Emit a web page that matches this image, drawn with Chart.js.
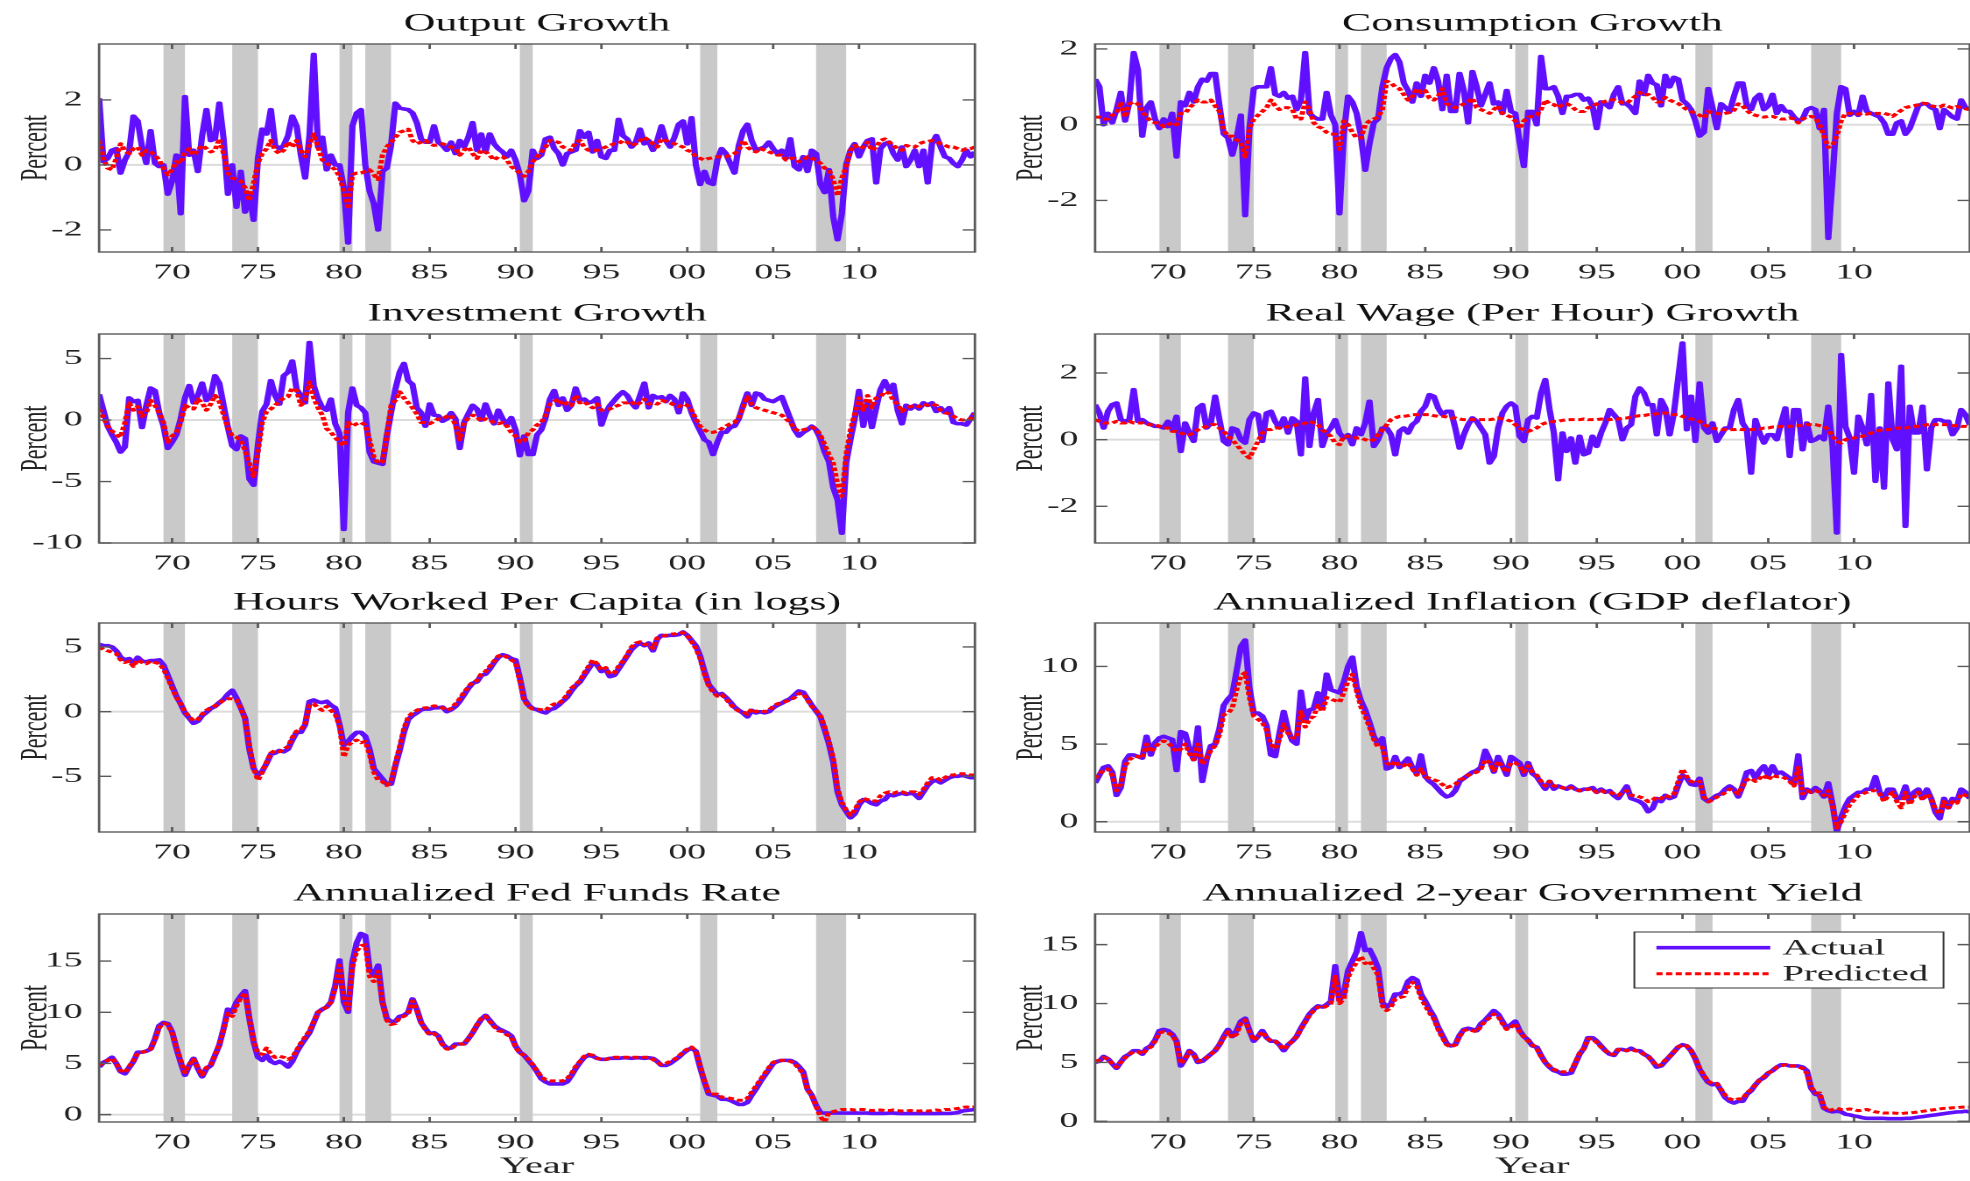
<!DOCTYPE html>
<html lang="en">
<head>
<meta charset="UTF-8">
<title>Actual vs Predicted</title>
<script src="https://cdn.jsdelivr.net/npm/chart.js"></script>
<style>
  html, body { margin: 0; padding: 0; background: #fff; }
  body { width: 1970px; height: 1181px; position: relative; overflow: hidden; }
  .panel { position: absolute; transform-origin: 0 0; }
</style>
</head>
<body>
<script>
// quarterly observations, first one (1966Q1) sits at 1965.75 on the axis
const firstQuarter = 1965.75;
const lastQuarter = 2016.75;
const quarters = [];
for (let q = firstQuarter; q <= lastQuarter + 1e-9; q += 0.25) quarters.push(q);

const yearTicks = [1970, 1975, 1980, 1985, 1990, 1995, 2000, 2005, 2010];
const yearLabels = ['70', '75', '80', '85', '90', '95', '00', '05', '10'];

// shaded recession bands (start, end)
const recessions = [
  [1969.5, 1970.75], [1973.5, 1975.0], [1979.75, 1980.5], [1981.25, 1982.75],
  [1990.25, 1991.0], [2000.75, 2001.75], [2007.5, 2009.25]
];

const outputActual = [
  2.05, 0.1, 0.2, 0.45, 0.5, -0.25, 0.15, 0.4, 1.5, 1.35, 0.55, 0.05, 1.05, 0.05, -0.05, 0.0, -0.9, -0.5, 0.3, -1.5,
  2.1, 0.3, 0.45, -0.2, 0.9, 1.7, 0.75, 0.8, 1.9, 0.8, -0.9, 0.0, -1.3, -0.2, -1.45, -0.9, -1.7, 0.2, 1.1, 0.95,
  1.7, 0.6, 0.5, 0.6, 0.9, 1.5, 1.2, 0.3, -0.4, 0.9, 3.4, 0.55, 0.85, -0.15, 0.3, 0.0, 0.0, -0.7, -2.4, 1.2,
  1.6, 1.7, 0.0, -0.8, -1.2, -2.0, -0.2, -0.1, 0.6, 1.9, 1.75, 1.72, 1.7, 1.6, 1.3, 0.8, 0.7, 0.7, 1.2, 0.7,
  0.6, 0.45, 0.7, 0.35, 0.75, 0.55, 0.85, 1.3, 0.45, 0.95, 0.4, 0.95, 0.65, 0.5, 0.4, 0.25, 0.45, 0.15, -0.3, -1.1,
  -0.8, 0.45, 0.2, 0.3, 0.8, 0.85, 0.5, 0.35, 0.0, 0.35, 0.4, 0.45, 1.05, 0.85, 1.0, 0.4, 0.75, 0.25, 0.2, 0.45,
  0.45, 1.4, 0.9, 0.8, 0.55, 0.7, 1.1, 0.65, 0.75, 0.45, 0.75, 1.2, 0.75, 0.55, 0.85, 1.25, 1.35, 0.65, 1.45, 0.0,
  -0.6, -0.2, -0.55, -0.6, 0.15, 0.5, 0.35, 0.05, -0.25, 0.6, 1.05, 1.25, 0.75, 0.45, 0.5, 0.55, 0.7, 0.5, 0.35, 0.45,
  0.2, 0.8, -0.05, -0.15, 0.25, -0.2, 0.45, 0.35, -0.6, -0.85, -0.15, -1.6, -2.3, -1.5, 0.0, 0.45, 0.65, 0.25, 0.55, 0.75,
  0.8, -0.55, 0.5, 0.65, 0.7, 0.35, 0.15, 0.55, -0.05, 0.15, 0.45, -0.05, 0.45, -0.55, 0.65, 0.9, 0.55, 0.25, 0.2, 0.05,
  -0.05, 0.15, 0.45, 0.25, 0.4
];
const outputPredicted = [
  0.75, 0.2, -0.1, -0.15, 0.2, 0.65, 0.45, 0.35, 0.5, 0.55, 0.3, 0.45, 0.4, 0.3, 0.15, -0.1, -0.3, -0.15, 0.1, 0.05,
  0.4, 0.5, 0.3, 0.45, 0.6, 0.5, 0.4, 0.45, 0.8, 0.35, -0.25, -0.4, -0.45, -0.5, -0.7, -1.1, -0.55, 0.05, 0.35, 0.5,
  0.75, 0.45, 0.35, 0.45, 0.7, 0.55, 0.75, 0.45, 0.25, 0.6, 0.95, 0.55, 0.15, 0.05, -0.05, -0.15, -0.35, -0.8, -1.35, -0.3,
  -0.25, -0.25, -0.2, -0.15, -0.3, -0.45, 0.3, 0.55, 0.7, 0.85, 1.0, 1.05, 1.1, 0.75, 0.65, 0.7, 0.75, 0.65, 0.6, 0.62,
  0.65, 0.6, 0.55, 0.5, 0.3, 0.45, 0.55, 0.35, 0.2, 0.45, 0.4, 0.3, 0.15, 0.25, 0.25, 0.15, -0.05, -0.15, -0.25, -0.35,
  -0.2, 0.1, 0.25, 0.4, 0.55, 0.75, 0.72, 0.7, 0.55, 0.5, 0.45, 0.7, 0.75, 0.55, 0.45, 0.45, 0.45, 0.5, 0.55, 0.6,
  0.65, 0.65, 0.75, 0.7, 0.6, 0.65, 0.75, 0.85, 0.75, 0.65, 0.55, 0.8, 0.75, 0.7, 0.65, 0.6, 0.55, 0.45, 0.4, 0.25,
  0.2, 0.15, 0.2, 0.22, 0.25, 0.25, 0.25, 0.3, 0.35, 0.45, 0.75, 0.55, 0.45, 0.4, 0.5, 0.45, 0.4, 0.35, 0.3, 0.3,
  0.15, 0.2, 0.2, 0.1, 0.15, 0.25, 0.2, 0.15, 0.05, -0.1, -0.15, -0.45, -0.95, -0.4, -0.05, 0.45, 0.6, 0.5, 0.55, 0.7,
  0.45, 0.55, 0.75, 0.8, 0.7, 0.6, 0.5, 0.45, 0.6, 0.55, 0.55, 0.65, 0.7, 0.72, 0.75, 0.72, 0.65, 0.6, 0.55, 0.55,
  0.5, 0.45, 0.5, 0.5, 0.55
];

const consumptionActual = [
  1.2, 1.0, 0.0, 0.3, 0.05, 0.4, 0.85, 0.1, 0.6, 1.9, 1.45, -0.3, 0.45, 0.6, 0.15, -0.1, 0.15, -0.05, 0.3, -0.85,
  0.6, 0.5, 0.85, 0.6, 1.0, 1.2, 1.15, 1.35, 1.35, 0.5, -0.25, -0.35, -0.8, -0.35, 0.25, -2.4, -0.1, 0.95, 1.0, 1.0,
  1.0, 1.5, 0.8, 0.75, 0.85, 0.7, 0.75, 0.4, 0.65, 1.9, 0.3, 0.2, 0.15, 0.15, 0.85, 0.25, 0.0, -2.35, -0.25, 0.75,
  0.6, 0.3, -0.3, -1.2, -0.5, 0.05, 0.15, 1.0, 1.5, 1.75, 1.85, 1.65, 1.1, 0.9, 0.6, 1.1, 0.75, 1.3, 1.1, 1.5,
  1.15, 0.4, 1.3, 0.35, 0.35, 1.35, 0.9, 0.05, 1.4, 1.0, 0.5, 0.8, 1.1, 0.55, 0.6, 0.3, 0.9, 0.35, 0.3, -0.45,
  -1.1, 0.35, 0.35, 0.0, 1.8, 0.95, 0.95, 1.0, 0.75, 0.3, 0.75, 0.75, 0.8, 0.8, 0.65, 0.7, 0.5, -0.1, 0.6, 0.55,
  0.45, 0.8, 1.0, 0.55, 0.55, 0.45, 0.3, 1.15, 0.8, 1.3, 1.1, 1.05, 0.5, 1.3, 1.0, 1.25, 1.2, 0.65, 0.55, 0.4,
  0.1, -0.3, -0.2, 0.95, 0.45, -0.1, 0.55, 0.45, 0.35, 0.75, 1.1, 1.1, 0.5, 0.4, 0.7, 0.8, 0.4, 0.5, 0.8, 0.3,
  0.5, 0.35, 0.35, 0.2, 0.1, 0.15, 0.4, 0.45, 0.4, -0.1, 0.4, -3.0, -1.4, 0.3, 1.0, 0.95, 0.25, 0.35, 0.25, 0.75,
  0.35, 0.3, 0.25, 0.2, 0.05, -0.25, -0.25, 0.05, 0.1, -0.25, -0.1, 0.2, 0.5, 0.55, 0.55, 0.45, 0.4, -0.1, 0.4, 0.3,
  0.2, 0.15, 0.65, 0.45, 0.4
];
const consumptionPredicted = [
  0.2, 0.2, 0.15, 0.15, 0.25, 0.3, 0.6, 0.2, 0.55, 0.6, 0.55, 0.35, 0.2, 0.1, 0.05, 0.05, -0.05, 0.0, 0.05, 0.0,
  0.3, 0.3, 0.45, 0.55, 0.65, 0.6, 0.6, 0.65, 0.5, 0.35, -0.15, -0.3, -0.3, -0.4, -0.45, -0.85, -0.1, 0.15, 0.25, 0.35,
  0.45, 0.65, 0.5, 0.4, 0.45, 0.45, 0.4, 0.15, 0.15, 0.6, 0.4, 0.05, -0.05, -0.1, -0.2, -0.25, -0.25, -0.65, 0.1, 0.0,
  -0.2, -0.35, -0.35, 0.0, 0.1, 0.15, 0.2, 0.4, 1.15, 1.1, 1.0, 0.95, 0.8, 0.65, 0.75, 0.95, 0.85, 0.9, 0.7, 0.65,
  0.75, 0.95, 0.55, 0.5, 0.45, 0.5, 0.55, 0.6, 0.7, 0.45, 0.4, 0.35, 0.3, 0.4, 0.5, 0.3, 0.25, 0.2, 0.1, -0.1,
  0.1, 0.2, 0.22, 0.25, 0.4, 0.65, 0.55, 0.53, 0.45, 0.53, 0.55, 0.5, 0.4, 0.35, 0.35, 0.45, 0.48, 0.55, 0.57, 0.62,
  0.65, 0.66, 0.63, 0.58, 0.57, 0.66, 0.75, 0.85, 0.78, 0.8, 0.72, 0.6, 0.6, 0.72, 0.65, 0.6, 0.56, 0.48, 0.4, 0.35,
  0.3, 0.25, 0.18, 0.35, 0.3, 0.3, 0.28, 0.3, 0.32, 0.38, 0.55, 0.5, 0.38, 0.28, 0.25, 0.22, 0.2, 0.22, 0.22, 0.18,
  0.15, 0.15, 0.18, 0.15, 0.05, 0.15, 0.2, 0.22, 0.18, 0.0, -0.3, -0.6, -0.55, -0.3, 0.1, 0.3, 0.3, 0.28, 0.28, 0.3,
  0.28, 0.3, 0.3, 0.3, 0.3, 0.27, 0.22, 0.3, 0.38, 0.45, 0.48, 0.5, 0.53, 0.57, 0.55, 0.5, 0.48, 0.47, 0.52, 0.48,
  0.44, 0.48, 0.45, 0.42, 0.4
];

const investmentActual = [
  2.1, 0.8, -0.5, -1.2, -1.8, -2.6, -2.2, 1.8, 1.5, 1.6, -0.6, 1.2, 2.6, 2.4, 0.6, -0.5, -2.3, -1.8, -1.2, 0.1,
  1.8, 2.8, 1.4, 2.0, 3.0, 1.6, 2.0, 3.6, 3.0, 1.2, -0.6, -2.1, -2.4, -1.3, -1.5, -4.8, -5.3, -2.0, 0.7, 1.3,
  3.2, 2.0, 1.3, 3.6, 3.9, 4.8, 2.5, 2.0, 1.4, 6.3, 2.8, 1.7, 1.0, 0.8, 1.7, -0.3, -1.1, -8.9, 0.6, 2.6,
  1.2, 1.0, 0.6, -2.6, -3.4, -3.5, -3.6, -1.3, 0.6, 2.5, 3.9, 4.6, 3.2, 2.9, 1.0, 0.6, -0.5, 1.3, 0.4, 0.35,
  -0.1, 0.1, 0.6, 0.1, -2.3, -0.2, 0.5, 1.2, 0.9, 0.0, 1.3, 0.4, -0.3, 0.8, 0.1, -0.4, 0.2, -0.8, -2.9, -1.3,
  -2.8, -2.8, -1.2, -0.8, 0.2, 1.7, 2.4, 1.2, 1.8, 0.8, 1.2, 2.6, 1.6, 1.7, 1.4, 1.5, 1.8, -0.4, 0.6, 1.2,
  1.6, 2.0, 2.3, 2.0, 1.4, 1.0, 2.0, 3.0, 1.0, 2.0, 1.8, 1.9, 1.5, 2.0, 1.7, 0.6, 2.2, 1.7, 0.6, -0.2,
  -0.9, -1.6, -1.8, -2.8, -1.8, -1.0, -1.0, -0.6, -0.5, 0.1, 1.2, 2.2, 1.2, 2.2, 2.1, 1.7, 1.6, 1.5, 1.7, 1.9,
  1.0, 0.1, -0.8, -1.3, -1.0, -0.8, -0.5, -0.8, -1.5, -2.6, -3.4, -5.5, -6.5, -9.2, -3.5, -1.6, 0.1, 2.4, -0.5, 1.5,
  -0.6, 1.0, 2.5, 3.2, 2.4, 2.9, 0.8, -0.3, 1.2, 0.9, 1.2, 0.9, 1.4, 1.2, 1.4, 0.7, 1.0, 0.6, 1.0, -0.2,
  -0.3, -0.3, -0.4, 0.1, 0.6
];
const investmentPredicted = [
  0.9, 0.2, -0.5, -0.9, -1.2, -1.4, -0.2, 1.4, 0.8, 1.1, 0.3, 0.6, 1.6, 1.2, 0.6, -0.2, -1.8, -1.3, -1.0, -0.2,
  1.2, 1.0, 0.9, 1.7, 1.4, 0.8, 1.3, 2.0, 1.5, 0.4, -0.6, -1.3, -1.4, -1.6, -2.5, -3.5, -4.6, -2.6, -0.2, 0.7,
  0.9, 1.2, 1.5, 1.8, 1.9, 2.6, 2.4, 1.2, 1.6, 3.1, 1.8, 1.0, 0.4, -0.7, -1.0, -1.4, -1.8, -2.1, -0.2, -0.5,
  -0.3, -0.2, -0.4, -1.6, -3.0, -3.5, -3.4, -1.3, 1.2, 1.6, 2.3, 1.8, 1.4, 1.0, 0.5, -0.2, -0.2, -0.3, -0.1, 0.1,
  0.1, 0.3, 0.4, -0.4, -1.6, -0.3, 0.2, 0.4, 0.3, -0.1, 0.1, 0.0, -0.2, -0.3, -0.2, -0.5, -1.0, -1.3, -1.8, -1.7,
  -1.0, -0.8, -0.4, -0.2, 0.4, 1.3, 1.5, 1.7, 1.2, 1.4, 1.2, 2.0, 1.4, 1.5, 1.2, 1.0, 1.3, 0.8, 0.9, 0.9,
  1.1, 1.2, 1.4, 1.4, 1.5, 1.2, 1.4, 1.7, 1.3, 1.4, 1.3, 1.6, 1.5, 1.4, 1.2, 1.1, 1.3, 1.2, 0.8, 0.1,
  -0.5, -0.8, -1.0, -1.0, -0.9, -0.7, -0.5, -0.3, -0.2, 0.2, 1.0, 1.9, 1.3, 1.0, 0.9, 0.8, 0.7, 0.6, 0.5, 0.4,
  0.1, -0.2, -0.7, -0.9, -0.8, -0.7, -0.6, -0.7, -1.2, -2.0, -2.8, -3.5, -5.2, -6.2, -2.8, -0.8, 0.5, 1.8, 0.8, 2.0,
  1.0, 1.8, 1.9, 2.3, 2.2, 1.6, 1.3, 0.7, 1.0, 1.1, 1.2, 1.1, 1.3, 1.2, 1.3, 1.2, 0.8, 0.6, 0.5, 0.3,
  0.1, 0.0, 0.0, 0.1, 0.5
];

const wageActual = [
  1.05, 0.8, 0.35, 0.85, 1.05, 1.1, 0.6, 0.55, 0.6, 1.5, 0.55, 0.6, 0.5, 0.45, 0.4, 0.4, 0.35, 0.55, 0.3, 0.7,
  -0.35, 0.5, 0.2, -0.05, 0.95, 1.05, 0.35, 0.5, 1.3, 0.6, -0.05, -0.15, 0.35, 0.3, 0.0, -0.1, 0.6, 0.8, 0.75, -0.05,
  0.8, 0.85, 0.55, 0.35, 0.65, 0.2, 0.65, 0.55, -0.45, 1.85, -0.2, 0.8, 1.2, -0.2, 0.2, 0.35, 0.6, 0.2, 0.05, 0.15,
  -0.15, 0.35, 0.15, 0.5, 1.15, -0.2, 0.0, 0.35, 0.35, 0.15, -0.45, 0.25, 0.35, 0.2, 0.45, 0.55, 0.85, 1.0, 1.35, 1.3,
  0.95, 0.75, 0.85, 0.85, 0.35, -0.25, 0.15, 0.45, 0.65, 0.55, 0.35, 0.15, -0.7, -0.5, 0.35, 0.8, 1.0, 1.1, 1.0, 0.1,
  -0.05, 0.6, 0.7, 0.65, 1.4, 1.8, 0.9, 0.2, -1.2, 0.2, -0.35, 0.05, -0.7, 0.1, -0.45, -0.4, 0.1, -0.2, 0.2, 0.5,
  0.9, 0.75, 0.6, 0.0, 0.35, 0.45, 1.3, 1.55, 1.4, 1.05, 1.05, 0.15, 1.2, 0.95, 0.15, 0.8, 1.85, 2.9, 0.3, 1.3,
  -0.05, 1.7, 0.35, 0.2, 0.5, -0.05, 0.15, 0.35, 0.35, 0.9, 1.2, 0.5, 0.3, -1.0, 0.6, 0.2, -0.1, 0.15, 0.15, 0.0,
  0.5, 0.95, -0.5, 0.9, 0.9, -0.3, 0.5, -0.05, 0.0, 0.1, 0.0, 1.0, -0.2, -2.8, 2.55, 0.4, 0.05, -1.0, 0.7, 0.35,
  -0.15, 1.35, -1.25, 0.35, -1.45, 1.7, 0.0, -0.3, 2.2, -2.6, 1.0, 0.2, 0.2, 1.0, -0.9, 0.35, 0.6, 0.6, 0.55, 0.55,
  0.15, 0.35, 0.9, 0.75, 0.45
];
const wagePredicted = [
  0.6, 0.55, 0.5, 0.5, 0.5, 0.55, 0.5, 0.5, 0.55, 0.5, 0.5, 0.5, 0.45, 0.45, 0.45, 0.4, 0.35, 0.35, 0.25, 0.25,
  0.2, 0.15, 0.15, 0.2, 0.3, 0.35, 0.4, 0.45, 0.45, 0.35, 0.25, 0.1, 0.0, -0.15, -0.3, -0.45, -0.55, -0.3, -0.05, 0.2,
  0.3, 0.3, 0.35, 0.35, 0.35, 0.4, 0.4, 0.45, 0.45, 0.5, 0.55, 0.5, 0.45, 0.3, 0.2, 0.1, -0.1, -0.15, 0.1, 0.1,
  0.1, 0.05, 0.05, 0.0, -0.05, 0.0, 0.15, 0.3, 0.45, 0.6, 0.65, 0.7, 0.7, 0.72, 0.75, 0.75, 0.75, 0.75, 0.75, 0.72,
  0.7, 0.7, 0.68, 0.65, 0.65, 0.62, 0.6, 0.6, 0.6, 0.6, 0.6, 0.6, 0.6, 0.62, 0.65, 0.62, 0.6, 0.55, 0.45, 0.35,
  0.3, 0.25, 0.3, 0.35, 0.45, 0.5, 0.52, 0.55, 0.55, 0.58, 0.6, 0.6, 0.6, 0.6, 0.62, 0.6, 0.6, 0.6, 0.62, 0.6,
  0.6, 0.62, 0.62, 0.65, 0.65, 0.68, 0.7, 0.72, 0.72, 0.75, 0.75, 0.78, 0.8, 0.8, 0.78, 0.75, 0.75, 0.7, 0.65, 0.62,
  0.6, 0.55, 0.45, 0.4, 0.35, 0.32, 0.3, 0.3, 0.3, 0.3, 0.32, 0.3, 0.3, 0.3, 0.32, 0.32, 0.35, 0.35, 0.38, 0.38,
  0.4, 0.4, 0.4, 0.42, 0.42, 0.42, 0.45, 0.45, 0.45, 0.42, 0.4, 0.3, 0.1, -0.05, -0.1, 0.0, 0.05, 0.05, 0.1, 0.1,
  0.15, 0.2, 0.25, 0.28, 0.3, 0.3, 0.32, 0.35, 0.35, 0.35, 0.38, 0.4, 0.4, 0.42, 0.45, 0.45, 0.45, 0.45, 0.45, 0.45,
  0.42, 0.42, 0.4, 0.4, 0.38
];

const hoursActual = [
  5.2, 5.1, 5.1, 5.0, 4.7, 4.2, 4.0, 4.1, 3.7, 4.2, 3.9, 3.85, 3.95, 3.95, 4.0, 3.6, 2.8, 2.0, 1.2, 0.6,
  -0.1, -0.5, -0.9, -0.75, -0.3, -0.05, 0.25, 0.4, 0.7, 0.95, 1.35, 1.65, 1.05, 0.3, -0.5, -2.9, -4.4, -4.9, -4.6, -4.0,
  -3.3, -3.2, -3.0, -3.1, -2.9, -2.2, -1.6, -1.6, -1.0, 0.8, 0.9, 0.75, 0.7, 0.8, 0.5, 0.3, -1.0, -2.6, -2.3, -1.9,
  -1.6, -1.6, -1.9, -2.9, -4.4, -4.8, -5.2, -5.6, -5.6, -4.2, -3.0, -1.6, -0.6, -0.3, -0.1, 0.15, 0.2, 0.2, 0.3, 0.3,
  0.35, 0.0, 0.15, 0.4, 0.8, 1.3, 1.8, 2.2, 2.3, 2.8, 2.9, 3.3, 3.8, 4.2, 4.4, 4.3, 4.1, 4.0, 2.6, 1.0,
  0.5, 0.25, 0.15, 0.0, -0.1, 0.15, 0.25, 0.5, 0.8, 1.1, 1.6, 2.0, 2.3, 2.8, 3.3, 3.8, 3.6, 3.1, 3.3, 2.7,
  2.8, 3.3, 3.8, 4.3, 4.8, 5.1, 5.3, 5.1, 5.3, 4.7, 5.6, 5.9, 5.85, 5.9, 5.9, 5.95, 6.15, 5.9, 5.5, 5.1,
  4.3, 3.1, 2.1, 1.7, 1.3, 1.4, 1.1, 0.75, 0.35, 0.1, -0.1, -0.4, 0.1, -0.1, 0.0, -0.1, 0.0, 0.3, 0.5, 0.65,
  0.85, 1.0, 1.3, 1.6, 1.5, 1.0, 0.5, 0.05, -0.4, -1.4, -2.5, -3.9, -6.2, -7.2, -7.7, -8.2, -7.9, -7.2, -6.8, -6.9,
  -7.1, -7.2, -6.9, -6.8, -6.4, -6.5, -6.4, -6.3, -6.4, -6.3, -6.4, -6.7, -6.2, -5.7, -5.4, -5.3, -5.5, -5.3, -5.1, -5.0,
  -5.0, -4.9, -5.0, -5.1, -5.1
];
const hoursPredicted = [
  5.0, 4.8, 4.7, 4.6, 4.5, 4.0, 3.8, 3.9, 3.5, 4.0, 3.8, 3.7, 3.9, 3.8, 3.7, 3.3, 2.6, 1.8, 1.1, 0.6,
  0.0, -0.4, -0.7, -0.6, -0.2, 0.1, 0.3, 0.45, 0.65, 0.9, 1.0, 1.0, 0.9, 0.3, -0.6, -2.6, -4.4, -5.3, -4.7, -3.9,
  -3.2, -3.0, -3.1, -2.9, -2.7, -2.0, -1.5, -1.4, -0.9, 0.5, 0.6, 0.3, 0.1, 0.4, 0.1, -0.2, -1.1, -3.5, -2.6, -2.3,
  -2.2, -2.4, -2.3, -3.3, -4.7, -5.3, -5.4, -5.7, -5.4, -4.0, -2.7, -1.3, -0.4, -0.1, 0.1, 0.25, 0.3, 0.3, 0.45, 0.4,
  0.3, 0.1, 0.25, 0.6, 1.0, 1.5, 1.9, 2.3, 2.4, 2.9, 3.1, 3.5, 3.9, 4.3, 4.4, 4.2, 4.0, 3.8, 2.4, 0.9,
  0.4, 0.2, 0.2, 0.15, 0.1, 0.4, 0.6, 0.6, 0.9, 1.3, 1.8, 2.1, 2.4, 3.0, 3.5, 4.0, 3.7, 3.2, 3.4, 2.9,
  3.0, 3.5, 3.9, 4.4, 5.0, 5.3, 5.4, 5.2, 5.2, 4.9, 5.7, 5.8, 5.9, 6.0, 6.0, 6.1, 6.1, 5.9, 5.4, 4.9,
  4.1, 2.9, 2.0, 1.5, 1.2, 1.3, 1.0, 0.6, 0.25, 0.05, 0.0, -0.2, 0.2, 0.0, 0.1, 0.0, 0.1, 0.4, 0.6, 0.7,
  0.8, 0.9, 1.1, 1.4, 1.4, 0.9, 0.4, 0.1, -0.3, -1.2, -2.3, -3.6, -5.9, -7.0, -7.6, -8.0, -7.6, -7.0, -6.7, -6.8,
  -6.9, -6.9, -6.5, -6.3, -6.2, -6.3, -6.2, -6.2, -6.3, -6.2, -6.2, -6.4, -6.0, -5.5, -5.1, -5.1, -5.3, -5.1, -4.9, -4.9,
  -4.8, -4.8, -4.8, -4.9, -4.9
];

const inflationActual = [
  2.5, 3.0, 3.5, 3.6, 3.2, 1.7, 2.2, 3.9, 4.3, 4.3, 4.2, 4.1, 5.5, 4.3, 5.1, 5.4, 5.5, 5.4, 5.3, 3.3,
  5.8, 5.7, 4.7, 4.0, 6.1, 2.6, 4.0, 4.9, 5.0, 6.0, 7.5, 7.9, 8.2, 9.7, 11.3, 11.7, 8.6, 7.0, 7.0, 6.8,
  6.2, 4.3, 4.2, 5.7, 7.1, 5.9, 5.2, 5.0, 8.4, 6.5, 7.2, 7.3, 8.3, 7.4, 9.5, 8.5, 8.4, 8.3, 9.0, 10.0,
  10.6, 8.7, 7.8, 7.2, 6.4, 5.5, 5.0, 5.4, 3.4, 3.5, 4.2, 3.5, 3.8, 4.1, 3.5, 3.1, 4.3, 2.9, 2.6, 2.4,
  2.1, 1.8, 1.6, 1.7, 2.0, 2.6, 2.8, 3.0, 3.2, 3.3, 3.5, 4.6, 4.0, 3.2, 4.2, 3.6, 3.0, 4.2, 4.0, 3.8,
  3.0, 3.8, 3.1, 2.9, 2.5, 2.1, 2.6, 2.1, 2.3, 2.2, 2.1, 2.3, 2.1, 2.0, 2.1, 2.1, 2.2, 1.9, 2.1, 1.9,
  2.0, 1.7, 1.5, 1.9, 2.3, 1.5, 1.4, 1.3, 1.1, 0.65, 0.85, 1.5, 1.3, 1.7, 1.5, 1.6, 2.35, 3.0, 2.8, 2.4,
  2.35, 2.8, 1.5, 1.3, 1.5, 1.7, 1.8, 2.1, 2.3, 2.1, 1.6, 2.3, 3.2, 3.3, 2.8, 3.3, 3.6, 3.0, 3.6, 3.1,
  3.2, 3.0, 2.8, 2.4, 4.3, 1.5, 2.1, 1.9, 2.2, 2.0, 1.6, 2.5, 1.1, -0.6, 0.3, 1.0, 1.5, 1.7, 1.9, 1.9,
  2.1, 2.1, 2.9, 1.9, 1.5, 2.1, 2.1, 1.5, 1.5, 2.3, 1.3, 1.9, 2.1, 1.5, 2.1, 1.5, 0.6, 0.2, 1.5, 0.9,
  1.5, 1.3, 2.1, 1.9, 1.5
];
const inflationPredicted = [
  2.8, 3.1, 3.3, 3.4, 3.0, 2.0, 2.4, 3.6, 4.0, 4.2, 4.2, 4.1, 5.0, 4.5, 4.8, 5.1, 5.2, 5.1, 4.8, 4.5,
  4.7, 5.0, 4.4, 4.0, 5.0, 3.7, 4.1, 4.6, 4.9, 5.6, 6.9, 7.0, 7.3, 8.5, 9.4, 9.6, 8.0, 6.8, 6.6, 6.4,
  5.9, 5.0, 4.7, 5.3, 6.3, 5.7, 5.4, 5.4, 7.1, 6.1, 6.6, 6.8, 7.5, 7.1, 8.0, 7.9, 7.8, 7.7, 8.3, 9.1,
  9.5, 8.4, 7.4, 6.8, 6.1, 5.3, 4.8, 4.8, 3.8, 3.6, 3.9, 3.6, 3.6, 3.8, 3.4, 3.0, 3.4, 2.9, 2.8, 2.7,
  2.6, 2.4, 2.2, 2.3, 2.4, 2.7, 2.8, 3.0, 3.1, 3.2, 3.4, 4.0, 3.8, 3.3, 3.9, 3.5, 3.2, 3.8, 3.8, 3.6,
  3.2, 3.6, 3.2, 3.0, 2.6, 2.3, 2.6, 2.3, 2.3, 2.2, 2.1, 2.2, 2.1, 2.0, 2.0, 2.1, 2.1, 1.9, 2.0, 1.9,
  1.9, 1.8, 1.7, 1.9, 2.0, 1.7, 1.7, 1.6, 1.5, 1.3, 1.4, 1.6, 1.5, 1.7, 1.6, 1.8, 2.6, 3.4, 2.9, 2.6,
  2.5, 2.6, 1.6, 1.3, 1.4, 1.6, 1.7, 1.9, 2.1, 2.0, 1.8, 2.3, 2.7, 2.8, 2.6, 2.8, 3.0, 2.7, 3.0, 2.9,
  2.9, 2.8, 2.6, 2.3, 3.5, 1.8, 2.0, 1.9, 2.0, 1.9, 1.7, 2.0, 1.0, -0.4, 0.0, 0.6, 1.1, 1.4, 1.7, 1.8,
  1.9, 2.0, 2.0, 1.8, 1.3, 1.7, 1.9, 1.3, 0.9, 1.9, 1.1, 1.6, 1.9, 1.4, 1.8, 1.5, 0.8, 0.5, 1.3, 0.9,
  1.3, 1.2, 1.8, 1.7, 1.5
];

const fedFundsActual = [
  4.65, 5.1, 5.3, 5.6, 5.0, 4.2, 4.0, 4.6, 5.2, 6.1, 6.1, 6.2, 6.4, 7.4, 8.7, 9.0, 8.9, 8.1, 6.5, 5.1,
  3.85, 4.8, 5.5, 4.5, 3.7, 4.5, 4.8, 5.8, 6.8, 8.4, 10.3, 10.0, 11.0, 11.6, 12.1, 9.4, 7.1, 5.6, 5.3, 5.8,
  5.2, 5.0, 5.2, 5.0, 4.65, 5.2, 6.1, 6.8, 7.4, 8.0, 9.0, 10.0, 10.3, 10.5, 11.0, 12.6, 15.1, 11.0, 10.0, 14.9,
  16.8, 17.7, 17.5, 14.2, 13.6, 14.6, 11.0, 9.4, 9.1, 9.1, 9.6, 9.7, 10.0, 11.3, 10.3, 9.0, 8.4, 7.9, 8.0, 7.7,
  6.9, 6.5, 6.5, 6.9, 6.9, 6.9, 7.4, 8.0, 8.7, 9.3, 9.7, 9.2, 8.7, 8.4, 8.2, 8.0, 7.7, 6.7, 6.1, 5.8,
  5.3, 4.8, 4.2, 3.5, 3.2, 3.0, 3.0, 3.0, 3.0, 3.2, 3.8, 4.5, 5.1, 5.6, 5.8, 5.7, 5.5, 5.4, 5.4, 5.5,
  5.5, 5.5, 5.55, 5.55, 5.5, 5.55, 5.55, 5.5, 5.55, 5.5, 5.2, 4.8, 4.8, 5.0, 5.3, 5.6, 6.0, 6.3, 6.5, 6.2,
  4.6, 3.2, 2.0, 1.9, 1.8, 1.5, 1.5, 1.4, 1.2, 1.0, 1.0, 1.2, 1.9, 2.5, 3.2, 3.8, 4.4, 5.0, 5.2, 5.3,
  5.3, 5.3, 5.1, 4.7, 4.2, 2.5, 1.9, 0.9, 0.2, 0.15, 0.15, 0.15, 0.15, 0.15, 0.15, 0.15, 0.15, 0.15, 0.15, 0.15,
  0.12, 0.12, 0.12, 0.12, 0.15, 0.15, 0.12, 0.1, 0.1, 0.1, 0.1, 0.1, 0.1, 0.1, 0.1, 0.1, 0.12, 0.12, 0.12, 0.15,
  0.2, 0.35, 0.4, 0.45, 0.5
];
const fedFundsPredicted = [
  4.8, 5.1, 5.3, 5.5, 5.0, 4.3, 4.1, 4.7, 5.3, 6.0, 6.1, 6.2, 6.4, 7.3, 8.5, 8.9, 8.8, 8.0, 6.6, 5.3,
  4.1, 4.9, 5.4, 4.6, 3.9, 4.6, 4.9, 5.8, 6.9, 8.3, 9.9, 9.6, 10.6, 11.4, 11.9, 9.4, 7.2, 6.0, 5.9, 6.5,
  5.9, 5.6, 5.7, 5.6, 5.4, 5.6, 6.3, 7.0, 7.6, 8.2, 9.1, 10.0, 10.3, 10.5, 11.0, 12.4, 14.6, 11.4, 10.3, 14.4,
  16.0, 16.5, 16.6, 13.5, 13.0, 14.0, 11.0, 9.2, 8.8, 8.9, 9.5, 9.6, 9.9, 11.1, 10.2, 9.0, 8.3, 7.8, 7.9, 7.6,
  6.8, 6.4, 6.4, 6.8, 6.9, 6.9, 7.4, 8.0, 8.8, 9.4, 9.6, 9.1, 8.6, 8.2, 8.1, 7.8, 7.6, 6.6, 6.0, 5.8,
  5.4, 4.9, 4.3, 3.7, 3.4, 3.3, 3.3, 3.3, 3.3, 3.5, 4.0, 4.7, 5.2, 5.7, 5.9, 5.8, 5.5, 5.4, 5.4, 5.5,
  5.6, 5.6, 5.6, 5.6, 5.6, 5.6, 5.6, 5.6, 5.6, 5.4, 5.1, 4.9, 5.0, 5.2, 5.4, 5.7, 6.1, 6.4, 6.6, 6.2,
  4.8, 3.3, 2.1, 2.0, 2.0, 1.7, 1.7, 1.6, 1.5, 1.4, 1.4, 1.6, 2.2, 2.8, 3.4, 4.0, 4.6, 5.1, 5.3, 5.3,
  5.3, 5.2, 5.0, 4.5, 4.0, 2.4, 1.9, 0.8, -0.2, -0.7, 0.2, 0.3, 0.4, 0.5, 0.5, 0.5, 0.45, 0.5, 0.5, 0.45,
  0.4, 0.45, 0.45, 0.4, 0.4, 0.45, 0.4, 0.35, 0.35, 0.4, 0.35, 0.35, 0.4, 0.35, 0.4, 0.45, 0.4, 0.5, 0.5, 0.55,
  0.6, 0.7, 0.75, 0.7, 0.75
];

const yieldActual = [
  5.0, 5.1, 5.5, 5.3, 4.9, 4.5, 5.05, 5.5, 5.7, 6.0, 6.0, 5.7, 6.2, 6.4, 6.9, 7.7, 7.8, 7.7, 7.4, 6.8,
  4.7, 5.3, 6.0, 5.7, 5.0, 5.1, 5.4, 5.7, 6.0, 6.5, 7.2, 7.8, 7.2, 7.7, 8.5, 8.75, 7.7, 6.8, 7.2, 7.7,
  7.1, 6.8, 6.8, 6.5, 6.0, 6.5, 6.8, 7.2, 7.9, 8.5, 9.1, 9.5, 9.8, 9.7, 9.9, 10.2, 13.2, 10.3, 10.8, 12.8,
  13.6, 14.4, 16.0, 14.5, 14.6, 13.9, 13.0, 10.1, 9.7, 10.0, 10.8, 10.8, 11.0, 11.9, 12.2, 12.0, 10.8, 10.2, 9.5, 8.9,
  8.0, 7.3, 6.6, 6.4, 6.5, 7.3, 7.8, 7.9, 7.8, 7.7, 8.3, 8.6, 9.0, 9.4, 9.1, 8.5, 7.9, 8.2, 8.5, 7.7,
  7.2, 6.9, 6.4, 6.3, 5.6, 5.0, 4.6, 4.3, 4.2, 4.0, 4.0, 4.1, 4.9, 5.7, 6.2, 7.1, 7.1, 6.8, 6.4, 6.0,
  5.7, 5.6, 6.1, 6.1, 6.0, 6.2, 6.0, 6.0, 5.7, 5.5, 5.1, 4.6, 4.7, 5.1, 5.5, 5.9, 6.3, 6.5, 6.4, 6.0,
  5.3, 4.4, 3.8, 3.3, 3.1, 3.2, 2.6, 2.0, 1.7, 1.55, 1.7, 1.7, 2.3, 2.6, 3.1, 3.5, 3.7, 4.1, 4.3, 4.6,
  4.8, 4.8, 4.7, 4.7, 4.7, 4.6, 4.3, 2.8, 2.3, 2.2, 1.1, 0.9, 0.8, 0.85, 0.8, 0.6, 0.55, 0.45, 0.4, 0.3,
  0.25, 0.25, 0.25, 0.25, 0.25, 0.22, 0.22, 0.22, 0.22, 0.25, 0.25, 0.3, 0.35, 0.4, 0.45, 0.5, 0.55, 0.6, 0.65, 0.7,
  0.75, 0.8, 0.8, 0.85, 0.8
];
const yieldPredicted = [
  5.1, 5.2, 5.4, 5.3, 4.9, 4.6, 5.0, 5.4, 5.7, 5.9, 5.9, 5.7, 6.1, 6.3, 6.8, 7.5, 7.6, 7.5, 7.3, 6.7,
  4.9, 5.3, 5.9, 5.6, 5.1, 5.2, 5.4, 5.7, 6.0, 6.5, 7.1, 7.6, 7.1, 7.4, 8.3, 8.6, 7.6, 6.9, 7.2, 7.6,
  7.1, 6.8, 6.8, 6.5, 6.1, 6.5, 6.8, 7.2, 7.8, 8.4, 9.0, 9.4, 9.7, 9.6, 9.8, 10.0, 12.3, 10.0, 10.4, 12.2,
  13.0, 13.5, 14.0, 13.4, 13.6, 13.0, 12.4, 9.8, 9.4, 9.7, 10.4, 10.5, 10.6, 11.4, 11.8, 11.5, 10.5, 9.8, 9.2, 8.7,
  7.8, 7.1, 6.5, 6.3, 6.5, 7.2, 7.7, 7.8, 7.7, 7.6, 8.1, 8.5, 8.8, 9.1, 8.9, 8.3, 7.8, 8.0, 8.3, 7.6,
  7.2, 6.8, 6.5, 6.2, 5.5, 5.0, 4.7, 4.4, 4.3, 4.2, 4.2, 4.3, 5.0, 5.8, 6.2, 7.0, 7.0, 6.7, 6.3, 6.0,
  5.7, 5.7, 6.1, 6.1, 6.0, 6.1, 6.0, 5.9, 5.7, 5.5, 5.1, 4.7, 4.8, 5.2, 5.5, 5.9, 6.3, 6.5, 6.4, 6.0,
  5.3, 4.5, 3.9, 3.4, 3.2, 3.2, 2.7, 2.2, 1.9, 1.8, 1.9, 1.9, 2.4, 2.7, 3.1, 3.5, 3.8, 4.1, 4.3, 4.6,
  4.7, 4.8, 4.7, 4.7, 4.6, 4.5, 4.1, 2.9, 2.4, 2.4, 1.2, 0.9, 1.0, 1.1, 1.0, 1.0, 1.05, 1.0, 0.9, 0.95,
  1.0, 0.9, 0.8, 0.75, 0.7, 0.7, 0.7, 0.68, 0.65, 0.7, 0.7, 0.75, 0.8, 0.85, 0.9, 0.95, 1.0, 1.05, 1.1, 1.1,
  1.15, 1.15, 1.2, 1.2, 1.2
];

const panels = [
  { title: 'Output Growth', actual: outputActual, predicted: outputPredicted, min: -2.68, max: 3.72, ticks: [-2, 0, 2] },
  { title: 'Consumption Growth', actual: consumptionActual, predicted: consumptionPredicted, min: -3.36, max: 2.13, ticks: [-2, 0, 2] },
  { title: 'Investment Growth', actual: investmentActual, predicted: investmentPredicted, min: -10, max: 7, ticks: [-10, -5, 0, 5] },
  { title: 'Real Wage (Per Hour) Growth', actual: wageActual, predicted: wagePredicted, min: -3.1, max: 3.17, ticks: [-2, 0, 2] },
  { title: 'Hours Worked Per Capita (in logs)', actual: hoursActual, predicted: hoursPredicted, min: -9.3, max: 6.85, ticks: [-5, 0, 5] },
  { title: 'Annualized Inflation (GDP deflator)', actual: inflationActual, predicted: inflationPredicted, min: -0.66, max: 12.8, ticks: [0, 5, 10] },
  { title: 'Annualized Fed Funds Rate', actual: fedFundsActual, predicted: fedFundsPredicted, min: -0.72, max: 19.6, ticks: [0, 5, 10, 15] },
  { title: 'Annualized 2-year Government Yield', actual: yieldActual, predicted: yieldPredicted, min: -0.06, max: 17.6, ticks: [0, 5, 10, 15] }
];

const BLUE = 'rgb(96, 16, 255)';
const RED = 'rgb(255, 0, 0)';
const STRETCH = 1.75;     // the whole figure is drawn wide, text included
const TITLE_BLOCK = 39;   // 4 + 25 * 1.2 + 5
const PAD_RIGHT = 4;

const columns = [
  { left: 0, plotLeft: 99, plotRight: 974, labelX: 36 },
  { left: 1005, plotLeft: 1095, plotRight: 1969, labelX: 1032 }
];
const rows = [
  { plotTop: 44, plotBottom: 252, axisH: 36 },
  { plotTop: 334, plotBottom: 543, axisH: 36 },
  { plotTop: 623, plotBottom: 832, axisH: 36 },
  { plotTop: 914, plotBottom: 1122, axisH: 59 }
];

Chart.defaults.font.family = '"Liberation Serif", "Times New Roman", serif';
Chart.defaults.color = '#222';

// zero line, recession bands, box and inward ticks
const frame = {
  id: 'frame',
  beforeDatasetsDraw(chart) {
    const { ctx, chartArea: a, scales: { x, y } } = chart;
    ctx.save();
    const y0 = y.getPixelForValue(0);
    ctx.strokeStyle = '#dcdcdc';
    ctx.lineWidth = 2;
    ctx.beginPath();
    ctx.moveTo(a.left, y0);
    ctx.lineTo(a.right, y0);
    ctx.stroke();
    ctx.fillStyle = '#c9c9c9';
    recessions.forEach(([s, e]) => {
      const x0 = x.getPixelForValue(s);
      const x1 = x.getPixelForValue(e);
      ctx.fillRect(x0, a.top, x1 - x0, a.bottom - a.top);
    });
    ctx.restore();
  },
  afterDatasetsDraw(chart) {
    const { ctx, chartArea: a, scales: { x, y } } = chart;
    ctx.save();
    ctx.strokeStyle = '#5a5a5a';
    ctx.lineWidth = 1.4;
    ctx.beginPath();
    yearTicks.forEach(v => {
      const px = x.getPixelForValue(v);
      ctx.moveTo(px, a.bottom); ctx.lineTo(px, a.bottom - 5);
      ctx.moveTo(px, a.top); ctx.lineTo(px, a.top + 5);
    });
    y.ticks.forEach(t => {
      const py = y.getPixelForValue(t.value);
      ctx.moveTo(a.left, py); ctx.lineTo(a.left + 7, py);
      ctx.moveTo(a.right, py); ctx.lineTo(a.right - 7, py);
    });
    ctx.stroke();
    ctx.strokeRect(a.left, a.top, a.right - a.left, a.bottom - a.top);
    ctx.restore();
  }
};

// boxed legend in the upper right of the last panel
const legendBox = {
  id: 'legendBox',
  afterDraw(chart, args, opts) {
    if (!opts.show) return;
    const { ctx, chartArea: a } = chart;
    const left = a.right - 191.5, right = a.right - 15;
    const top = a.top + 18, bottom = a.top + 74;
    ctx.save();
    ctx.fillStyle = '#fff';
    ctx.fillRect(left, top, right - left, bottom - top);
    ctx.strokeStyle = '#333';
    ctx.lineWidth = 1;
    ctx.strokeRect(left, top, right - left, bottom - top);
    const rowsY = [a.top + 33.7, a.top + 59.7];
    chart.data.datasets.forEach((ds, i) => {
      ctx.strokeStyle = ds.borderColor;
      ctx.lineWidth = ds.borderWidth;
      ctx.setLineDash(ds.borderDash || []);
      ctx.beginPath();
      ctx.moveTo(a.right - 178.9, rowsY[i]);
      ctx.lineTo(a.right - 113.9, rowsY[i]);
      ctx.stroke();
      ctx.setLineDash([]);
      ctx.fillStyle = '#222';
      ctx.font = '22px "Liberation Serif"';
      ctx.textBaseline = 'middle';
      ctx.fillText(ds.label, a.right - 106.9, rowsY[i] + 1);
    });
    ctx.restore();
  }
};

const toPoints = vals => vals.map((v, i) => ({ x: quarters[i], y: v }));

panels.forEach((p, k) => {
  const col = columns[k % 2];
  const row = rows[Math.floor(k / 2)];
  const top = row.plotTop - TITLE_BLOCK;
  const div = document.createElement('div');
  div.className = 'panel';
  div.style.left = col.left + 'px';
  div.style.top = top + 'px';
  div.style.width = ((col.plotRight - col.left) / STRETCH + PAD_RIGHT) + 'px';
  div.style.height = (row.plotBottom + row.axisH - top) + 'px';
  div.style.transform = 'scaleX(' + STRETCH + ')';
  const canvas = document.createElement('canvas');
  div.appendChild(canvas);
  document.body.appendChild(div);

  const axisW = (col.plotLeft - col.left) / STRETCH;
  const percentPad = (col.labelX - col.left) / STRETCH - 13.2;
  const lastRow = k >= 6;

  new Chart(canvas, {
    type: 'line',
    data: {
      datasets: [
        { label: 'Actual', data: toPoints(p.actual), borderColor: BLUE, borderWidth: 3.6, order: 2 },
        { label: 'Predicted', data: toPoints(p.predicted), borderColor: RED, borderWidth: 3, borderDash: [3.5, 2], order: 1 }
      ]
    },
    options: {
      responsive: true,
      maintainAspectRatio: false,
      animation: false,
      devicePixelRatio: 2,
      events: [],
      layout: { padding: { left: 0, right: PAD_RIGHT, top: 0, bottom: 0 } },
      elements: {
        point: { radius: 0 },
        line: { tension: 0, borderJoinStyle: 'round', fill: false }
      },
      scales: {
        x: {
          type: 'linear',
          min: firstQuarter,
          max: lastQuarter,
          grid: { display: false, drawTicks: false },
          border: { display: false },
          afterBuildTicks: s => { s.ticks = yearTicks.map(v => ({ value: v })); },
          afterFit: s => { s.height = row.axisH; },
          ticks: {
            autoSkip: false, maxRotation: 0, padding: 8,
            font: { size: 21.5 }, color: '#222',
            callback: (v, i) => yearLabels[i]
          },
          title: {
            display: lastRow, text: 'Year', color: '#222',
            font: { size: 23 }, padding: { top: 0, bottom: 0 }
          }
        },
        y: {
          min: p.min,
          max: p.max,
          grid: { display: false, drawTicks: false },
          border: { display: false },
          afterBuildTicks: s => { s.ticks = p.ticks.map(v => ({ value: v })); },
          afterFit: s => { s.width = axisW; },
          ticks: { padding: 9.5, font: { size: 21.5 }, color: '#222', callback: v => String(v) },
          title: {
            display: true, text: 'Percent', color: '#222',
            font: { size: 22 }, padding: { top: percentPad, bottom: 0 }
          }
        }
      },
      plugins: {
        legend: { display: false },
        tooltip: { enabled: false },
        title: {
          display: true, text: p.title, fullSize: false, color: '#111',
          font: { size: 25, weight: 'normal' }, padding: { top: 4, bottom: 5 }
        },
        legendBox: { show: k === 7 }
      }
    },
    plugins: [frame, legendBox]
  });
});
</script>
</body>
</html>
